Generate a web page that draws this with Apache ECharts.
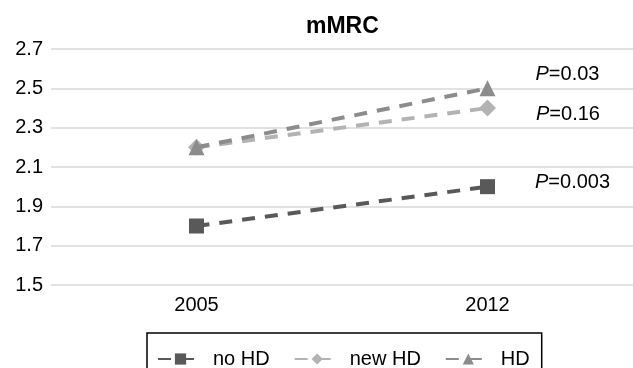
<!DOCTYPE html>
<html><head><meta charset="utf-8">
<script src="https://cdn.jsdelivr.net/npm/echarts@6/dist/echarts.min.js"></script>
<style>html,body{margin:0;padding:0;background:#fff}#c{width:633px;height:368px}</style>
</head><body><div id="c"></div>
<script>
var categories = ['2005', '2012'];
var noHD = [1.8, 2.0];
var newHD = [2.2, 2.4];
var HD = [2.2, 2.5];
var pLabels = ['0.003', '0.16', '0.03'];
var yTicks = { min: 1.5, max: 2.7, interval: 0.2 };

var chart = echarts.init(document.getElementById('c'));
var font = 'Liberation Sans, Arial, sans-serif';
function pLabel(txt, off) {
  return {
    show: true, position: 'right', distance: 40, offset: off,
    formatter: function (p) { return p.dataIndex === 1 ? '{i|P}{n|=' + txt + '}' : ''; },
    rich: {
      i: { fontStyle: 'italic', fontSize: 20, color: '#000', fontFamily: font },
      n: { fontSize: 20, color: '#000', fontFamily: font }
    }
  };
}
chart.setOption({
  animation: false,
  textStyle: { fontFamily: font },
  title: { text: 'mMRC', left: 306, top: 15, padding: 0,
    textStyle: { fontSize: 23, fontWeight: 'bold', color: '#000', fontFamily: font } },
  grid: { left: 51, top: 49, width: 586, height: 236, containLabel: false },
  xAxis: { type: 'category', data: categories, boundaryGap: true,
    axisLine: { show: false }, axisTick: { show: false },
    axisLabel: { fontSize: 20, color: '#000', margin: 10, fontFamily: font } },
  yAxis: { type: 'value', min: yTicks.min, max: yTicks.max, interval: yTicks.interval,
    axisLine: { show: false }, axisTick: { show: false },
    splitLine: { lineStyle: { color: '#d9d9d9', width: 1.5 } },
    axisLabel: { fontSize: 20, color: '#000', margin: 8, fontFamily: font,
      formatter: function (v) { return v.toFixed(1); } } },
  legend: {
    left: 147, top: 333, padding: [16, 12, 20, 10], itemGap: 24,
    borderColor: '#000', borderWidth: 1.5,
    itemWidth: 45, itemHeight: 14,
    textStyle: { fontSize: 20, color: '#000', fontFamily: font, padding: [0, 0, 0, 5] },
    data: ['no HD', 'new HD', 'HD']
  },
  series: [
    { name: 'no HD', type: 'line', data: noHD, symbol: 'rect', symbolSize: 15,
      lineStyle: { type: [13, 10], width: 4, color: '#595959' },
      itemStyle: { color: '#595959' }, label: pLabel(pLabels[0], [0, -4]), z: 3 },
    { name: 'new HD', type: 'line', data: newHD, symbol: 'diamond', symbolSize: 17,
      lineStyle: { type: [13, 10], width: 4, color: '#b3b3b3' },
      itemStyle: { color: '#b3b3b3' }, label: pLabel(pLabels[1], [0, 6]), z: 2 },
    { name: 'HD', type: 'line', data: HD, symbol: 'triangle', symbolSize: 16,
      lineStyle: { type: [13, 10], width: 4, color: '#8c8c8c' },
      itemStyle: { color: '#8c8c8c' }, label: pLabel(pLabels[2], [0, -14]), z: 4 }
  ]
});
</script></body></html>
